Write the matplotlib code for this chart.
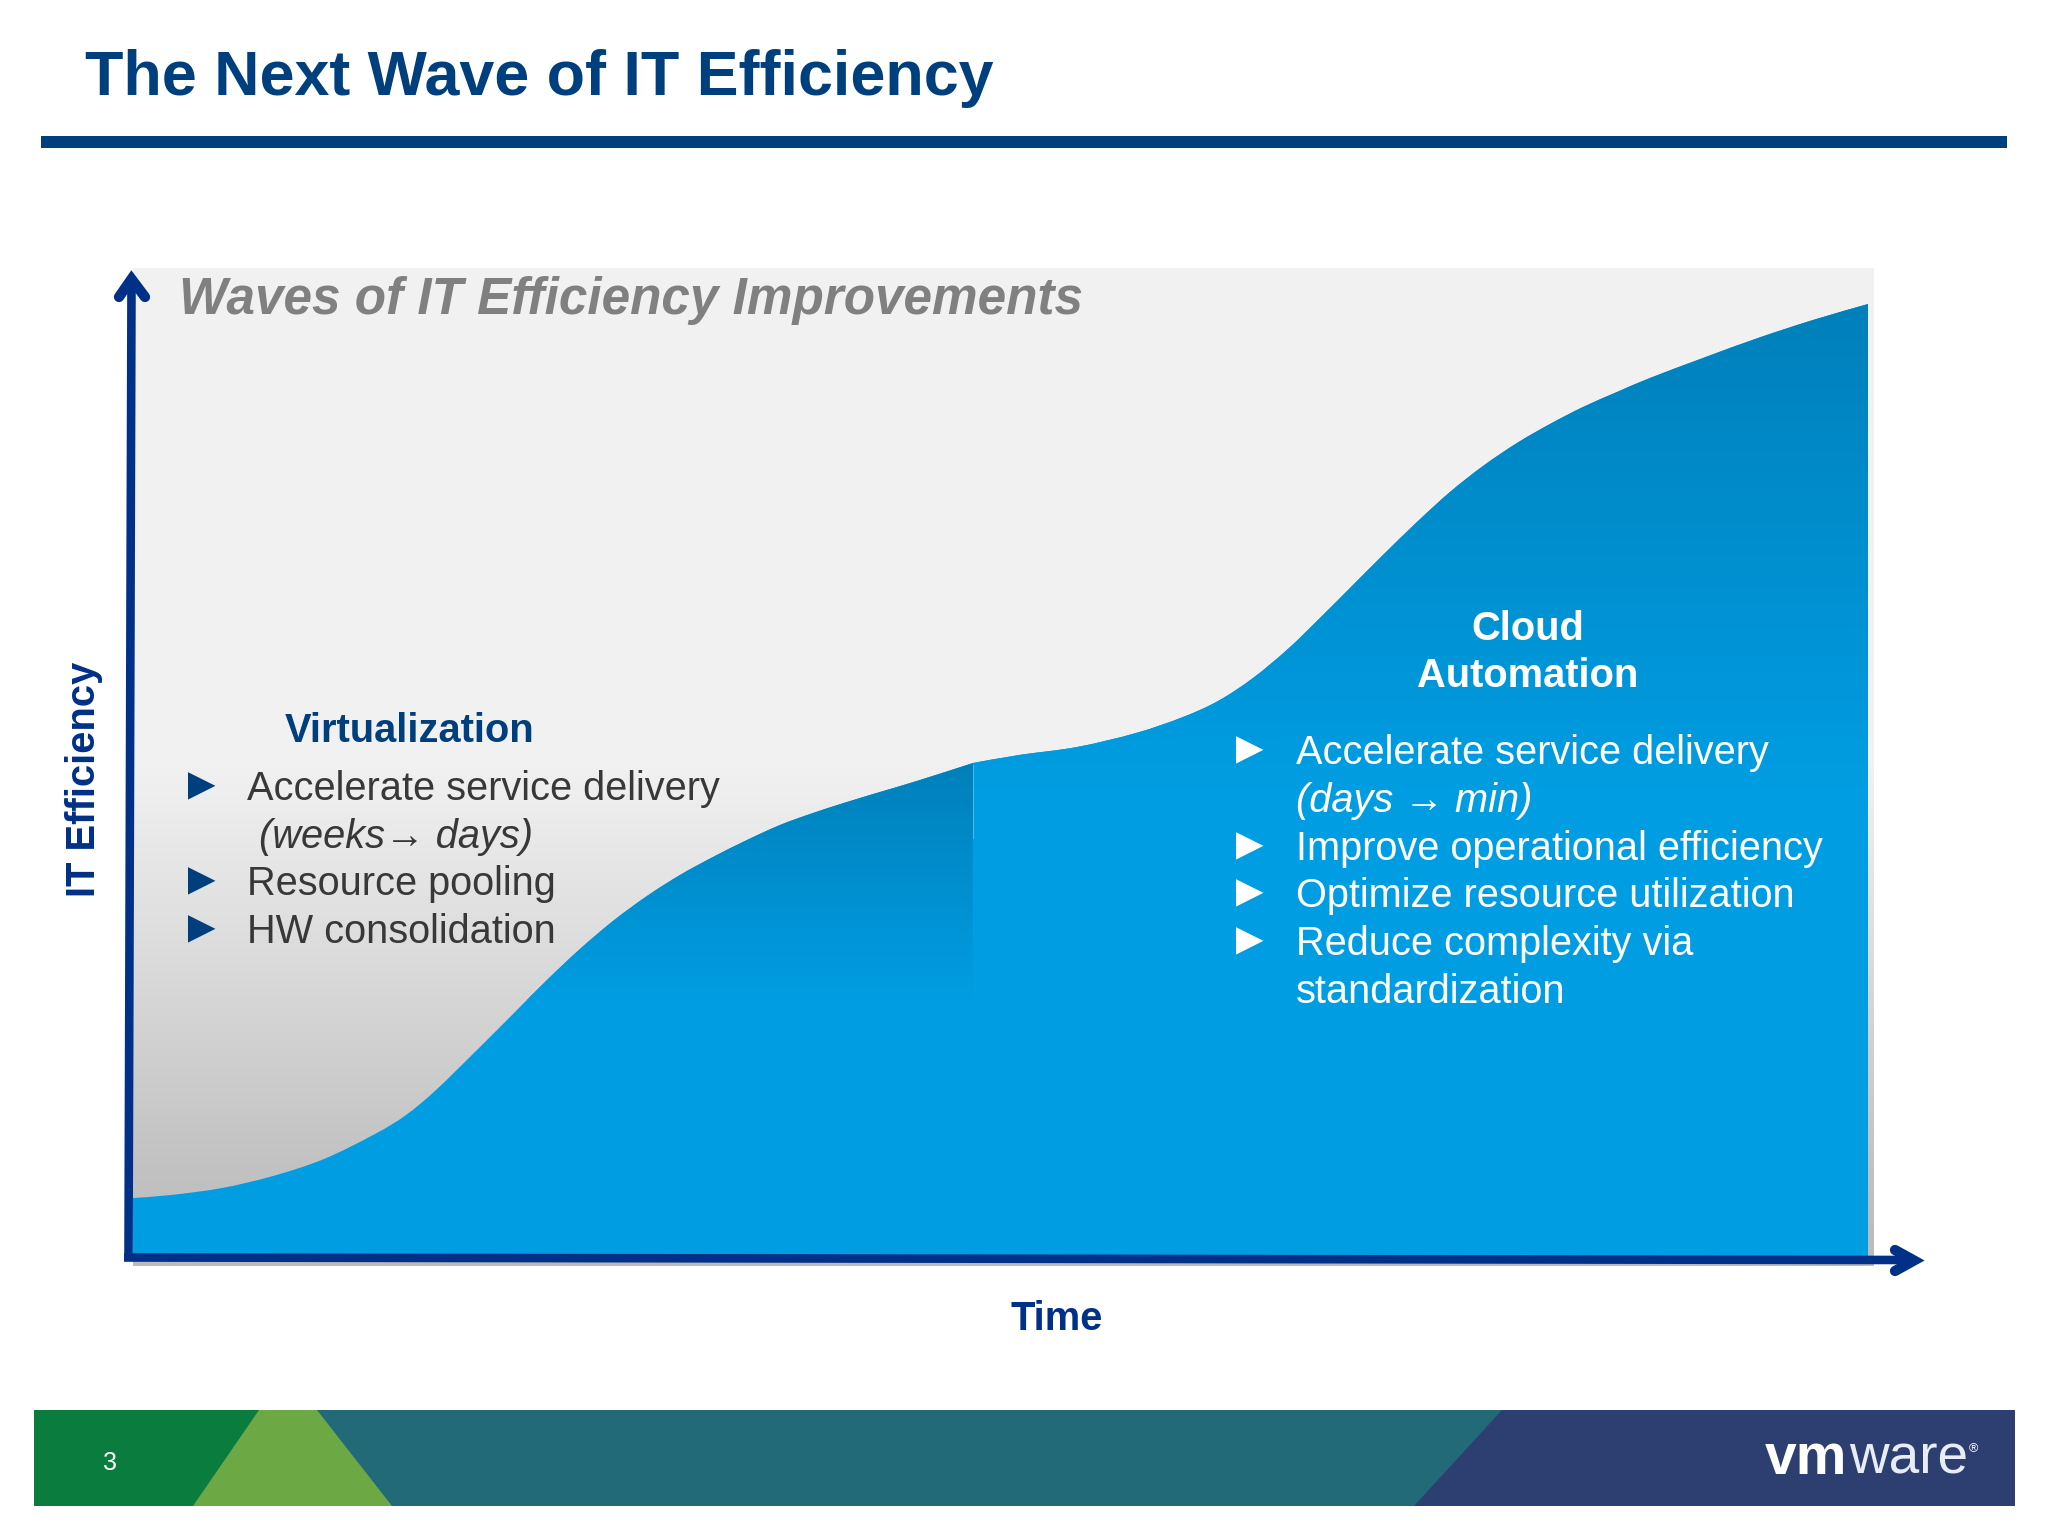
# Slide recreation: "The Next Wave of IT Efficiency"
import matplotlib
matplotlib.use("Agg")
import matplotlib.pyplot as plt
import numpy as np
from matplotlib.colors import LinearSegmentedColormap
from matplotlib.patches import PathPatch, Polygon, Rectangle
from matplotlib.path import Path

plt.rcParams["font.family"] = ["Liberation Sans", "DejaVu Sans"]

# ====== Data ======
wave1_time = [0, 38, 89, 140, 191, 242, 273, 303, 347, 380, 414, 447, 480, 514,
              547, 580, 614, 647, 680, 714, 747, 787, 840]
wave1_eff = [60, 63, 70, 82, 99, 124, 143, 168, 211, 244, 278, 309, 337, 362,
             383, 401, 418, 433, 445, 456, 466, 478, 495]
wave2_time = [840, 886, 944, 1003, 1050, 1085, 1120, 1156, 1191, 1217, 1250, 1284,
              1317, 1350, 1384, 1417, 1450, 1484, 1517, 1570, 1625, 1680, 1735]
wave2_eff = [495, 503, 511, 525, 541, 557, 580, 610, 644, 670, 703, 736,
             766, 792, 815, 834, 851, 866, 880, 900, 920, 938, 954]

title = "The Next Wave of IT Efficiency"
subtitle = "Waves of IT Efficiency Improvements"
x_label = "Time"
y_label = "IT Efficiency"
left_heading = "Virtualization"
left_lines = ["Accelerate service delivery", "(weeks\u2192 days)", "Resource pooling", "HW consolidation"]
left_bullets = [True, False, True, True]
left_italic = [False, True, False, False]
right_heading = ["Cloud", "Automation"]
right_lines = ["Accelerate service delivery", "(days \u2192 min)", "Improve operational efficiency",
               "Optimize resource utilization", "Reduce complexity via", "standardization"]
right_bullets = [True, False, True, True, True, False]
right_italic = [False, True, False, False, False, False]

# ====== Colours ======
NAVY = "#003f7e"
AXIS_BLUE = "#003087"
WAVE_LIGHT = "#009de2"
WAVE_DARK = "#0080bb"
TEXT_DARK = "#383838"

fig = plt.figure(figsize=(20.48, 15.36), dpi=100, facecolor="white")

# ====== Chart area ======
ax = fig.add_axes([133 / 2048, (1536 - 1266) / 1536, (1874 - 133) / 2048, (1266 - 268) / 1536])
ax.set_axis_off()

bg_cmap = LinearSegmentedColormap.from_list(
    "bg", [(0, "#bcbbbb"), (0.1, "#c2c2c2"), (0.3, "#dadada"), (0.5, "#f2f1f2"), (1, "#f2f1f2")])
ramp = np.linspace(0, 1, 256).reshape(-1, 1)
ax.imshow(ramp, cmap=bg_cmap, origin="lower", aspect="auto", extent=(0, 1741, -8, 990),
          vmin=0, vmax=1, zorder=1)


def wave_path(time, eff):
    # outline through the read points with Catmull-Rom segments, closed along the baseline
    pts = np.column_stack([time, eff]).astype(float)
    verts = [pts[0]]
    codes = [Path.MOVETO]
    for i in range(len(pts) - 1):
        before = pts[max(i - 1, 0)]
        after = pts[min(i + 2, len(pts) - 1)]
        verts += [pts[i] + (pts[i + 1] - before) / 6, pts[i + 1] - (after - pts[i]) / 6, pts[i + 1]]
        codes += [Path.CURVE4] * 3
    verts += [(time[-1], 0), (time[0], 0), pts[0]]
    codes += [Path.LINETO, Path.LINETO, Path.CLOSEPOLY]
    return Path(verts, codes)


def draw_wave(time, eff, grad_low, zorder):
    clip = PathPatch(wave_path(time, eff), fc=WAVE_LIGHT, ec="none", transform=ax.transData, zorder=zorder)
    ax.add_patch(clip)
    cmap = LinearSegmentedColormap.from_list("wave", [WAVE_LIGHT, WAVE_DARK])
    img = ax.imshow(ramp, cmap=cmap, origin="lower", aspect="auto",
                    extent=(time[0], time[-1], grad_low, max(eff)), vmin=0, vmax=1, zorder=zorder)
    img.set_clip_path(clip)


draw_wave(wave1_time, wave1_eff, 258, 2)
draw_wave(wave2_time, wave2_eff, 468, 3)
ax.plot([840, 840], [420, 493], color="#7cc8ee", lw=0.8, alpha=0.6, zorder=4)
ax.set_xlim(0, 1741)
ax.set_ylim(-8, 990)

# ====== Slide furniture, in pixels ======
page = fig.add_axes([0, 0, 1, 1], zorder=5)
page.set_xlim(0, 2048)
page.set_ylim(1536, 0)
page.set_axis_off()
page.patch.set_alpha(0)

page.text(85, 95, title, fontsize=45.2, fontweight="bold", color=NAVY, va="baseline")
page.add_patch(Rectangle((41, 136), 1966, 12, fc=NAVY, ec="none"))
page.text(179, 314, subtitle, fontsize=36.95, fontweight="bold", style="italic", color="#808080", va="baseline")

# axis arrows
line_kw = dict(color=AXIS_BLUE, lw=6.2, zorder=6, solid_capstyle="butt")
head_kw = dict(color=AXIS_BLUE, lw=7.4, zorder=6, solid_capstyle="round", solid_joinstyle="miter")
page.plot([128.5, 131.5], [1258, 282], **line_kw)
page.plot([119, 131.5, 145], [297, 279, 297], **head_kw)
page.plot([124, 1905], [1257.5, 1260], **line_kw)
page.plot([1895, 1914, 1895], [1250, 1260.5, 1271], **head_kw)

page.text(1057, 1319.5, x_label, fontsize=28.7, fontweight="bold", color=AXIS_BLUE, ha="center", va="center")
page.text(84, 779, y_label, fontsize=28.8, fontweight="bold", color=AXIS_BLUE, rotation=90, ha="center", va="center")


def bullet_block(lines, bullets, italics, baselines, x_text, x_indent, x_bullet, colour, bullet_colour):
    for line, has_bullet, is_italic, y in zip(lines, bullets, italics, baselines):
        x = x_indent if is_italic else x_text
        page.text(x, y, line, fontsize=28.6, color=colour, style="italic" if is_italic else "normal", va="baseline")
        if has_bullet:
            page.text(x_bullet, y - 13, "\u25ba", fontsize=33, color=bullet_colour, ha="left", va="center")


page.text(409.5, 742, left_heading, fontsize=28.7, fontweight="bold", color=NAVY, ha="center", va="baseline")
bullet_block(left_lines, left_bullets, left_italic, [800, 848, 895, 943], 247, 259, 178, TEXT_DARK, NAVY)

for line, y in zip(right_heading, [640, 687]):
    page.text(1528, y, line, fontsize=28.7, fontweight="bold", color="white", ha="center", va="baseline")
bullet_block(right_lines, right_bullets, right_italic, [764, 812, 860, 907, 955, 1003], 1295.5, 1295.5, 1226, "white", "white")

# footer banner
page.add_patch(Rectangle((34, 1410), 1981, 96, fc="#226a78", ec="none"))
page.add_patch(Polygon([(34, 1410), (259, 1410), (193, 1506), (34, 1506)], fc="#0a7d3e", ec="none"))
page.add_patch(Polygon([(259, 1410), (317, 1410), (392, 1506), (193, 1506)], fc="#6ca844", ec="none"))
page.add_patch(Polygon([(1502, 1410), (2015, 1410), (2015, 1506), (1414, 1506)], fc="#2d3f70", ec="none"))
page.text(110, 1463.5, "3", fontsize=18, color="white", ha="center", va="center")
page.text(1765, 1474, "vm", fontsize=41, fontweight="bold", color="white", va="baseline")
page.text(1849, 1474, "ware", fontsize=39.5, color="#e8ecf4", va="baseline")
page.text(1969, 1452, "\u00ae", fontsize=9, color="white", va="baseline")

fig.savefig("out.png", dpi=100)
